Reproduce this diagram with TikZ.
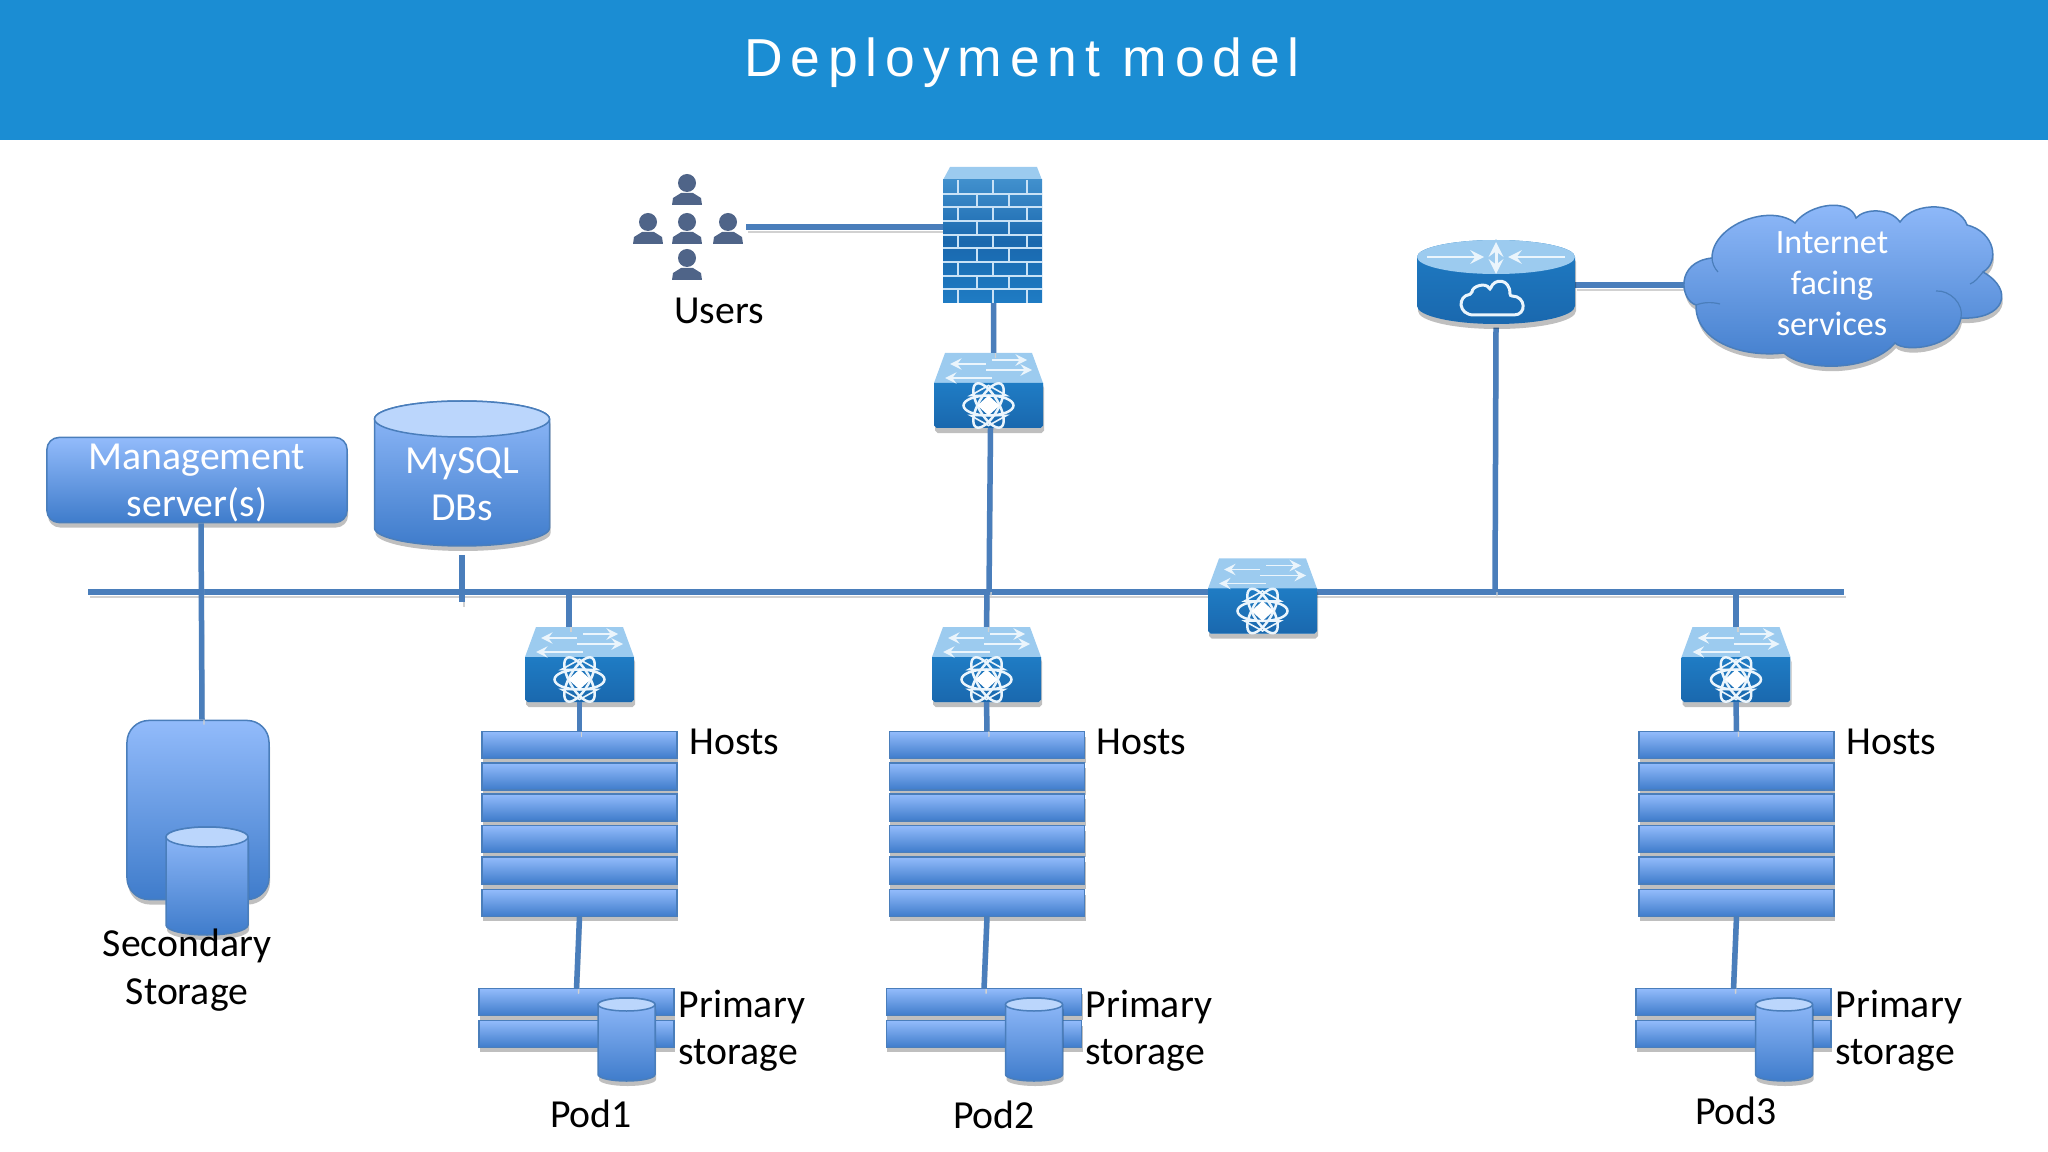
\documentclass[tikz,border=0pt]{standalone}
\usepackage{fontspec}
\setmainfont{Carlito}
\newfontfamily\titlefont[LetterSpace=14.7]{Liberation Sans}
\usetikzlibrary{calc,shadows}
\definecolor{headblue}{HTML}{1B8DD3}
\definecolor{linkblue}{HTML}{4A7EBB}
\definecolor{boxtop}{HTML}{92BBFB}
\definecolor{boxbot}{HTML}{3F7CCB}
\definecolor{lidblue}{HTML}{BBD6FC}
\definecolor{ciscotop}{HTML}{9CCBEF}
\definecolor{ciscofront}{HTML}{1F7CC4}
\definecolor{ciscodark}{HTML}{1A68AE}
\definecolor{personblue}{HTML}{4F6488}
\tikzset{
	softshadow/.style={drop shadow={shadow xshift=.01cm,shadow yshift=-.05cm,fill=black,opacity=.25}},
	link/.style={line width=.055cm,color=linkblue,preaction={draw=black!18,transform canvas={xshift=.02cm,yshift=-.05cm}}},
	gradbox/.style={draw=linkblue,line width=.015cm,top color=boxtop,bottom color=boxbot,softshadow},
	hostrow/.style={gradbox,inner sep=0,outer sep=0,minimum width=1.95cm,minimum height=.265cm},
	devbox/.style={inner sep=0,outer sep=0},
	whitetext/.style={color=white,align=center,inner sep=0,font=\fontsize{11.3}{13.5}\selectfont},
	blacktext/.style={color=black,inner sep=0,font=\fontsize{11.3}{13.5}\selectfont},
	ciscoline/.style={color=white!80!ciscotop,line width=.016cm},
}
\def\dbcan(#1,#2,#3,#4,#5){
	\path[gradbox] ({#1-#4},{#2+#5}) -- ({#1-#4},{#3-#5}) arc (180:0:#4 and #5) -- ({#1+#4},{#2+#5}) arc (0:-180:#4 and #5) -- cycle;
	\draw[draw=linkblue,line width=.015cm,fill=lidblue] (#1,{#2+#5}) ellipse (#4 and #5);
}
\def\switchbox(#1)(#2,#3){
	\node[devbox,minimum width=1.09cm,minimum height=.75cm] (#1) at (#2,#3) {};
	\begin{scope}[shift={(#2,#3)}]
		\path[fill=ciscotop,softshadow] (-43.5,-37.5) -- (43.5,-37.5) -- (54.5,-7.5) -- (54.5,35) -- (52,37.5) -- (-52,37.5) -- (-54.5,35) -- (-54.5,-7.5) -- cycle;
		\path[top color=ciscofront,bottom color=ciscodark] (-54.5,-7.5) -- (54.5,-7.5) -- (54.5,35) -- (52,37.5) -- (-52,37.5) -- (-54.5,35) -- cycle;
		\draw[ciscoline,-stealth] (3.5,-30.5) -- (38.5,-30.5);
		\draw[ciscoline,-stealth] (-2.5,-26.5) -- (-38.5,-26.5);
		\draw[ciscoline,-stealth] (-2.5,-20.5) -- (43.5,-20.5);
		\draw[ciscoline,-stealth] (3.5,-12.5) -- (-43.5,-12.5);
		\draw[ciscoline,line width=.025cm] (0,15) ellipse (25 and 10);
		\draw[ciscoline,line width=.025cm,rotate around={60:(0,15)}] (0,15) ellipse (25 and 10);
		\draw[ciscoline,line width=.025cm,rotate around={-60:(0,15)}] (0,15) ellipse (25 and 10);
		\draw[ciscoline] (-18,5) -- (18,5) -- (0,-5) -- cycle (-18,25) -- (18,25) -- (0,35) -- cycle;
		\fill[white] (-11,15) -- (0,5) -- (11,15) -- (0,25) -- cycle;
	\end{scope}
}
\def\personicon(#1,#2){
	\fill[personblue] (#1,#2) circle (9);
	\fill[personblue] ({#1-15},{#2+22}) -- ({#1-14},{#2+15}) -- ({#1-6},{#2+10}) -- ({#1+6},{#2+10}) -- ({#1+14},{#2+15}) -- ({#1+15},{#2+22}) -- cycle;
}

\begin{document}
\begin{tikzpicture}[x=.01cm,y=-.01cm]
	%%%%% START %%%%%
	\useasboundingbox (0,0) rectangle (2048,1152);
	\fill[headblue] (0,0) rectangle (2048,140);
	\node[color=white,inner sep=0,anchor=base,font=\fontsize{15.2}{18}\selectfont\titlefont] (title) at (1022,77) {Deployment model};

	%%%%% bus and connectors
	\coordinate (busleft) at (88,592);
	\coordinate (busright) at (1844,592);
	\coordinate (tapmysql) at (462,602);
	\coordinate (tappodone) at (569,592);
	\coordinate (tappodtwo) at (987,592);
	\coordinate (tapfirewall) at (989,592);
	\coordinate (taprouter) at (1495,592);
	\coordinate (tappodthree) at (1736,592);

	\node[devbox,minimum width=1.18cm,minimum height=.3cm] (users) at (687,227) {};
	\node[devbox,minimum width=.99cm,minimum height=1.36cm] (fwall) at (992.5,235) {};
	\node[devbox,minimum width=1.58cm,minimum height=.87cm] (router) at (1496,284) {};
	\node[devbox,minimum width=2.92cm,minimum height=1.2cm] (cloud) at (1832,285) {};
	\node[gradbox,rounded corners=.12cm,inner sep=0,minimum width=3cm,minimum height=.85cm] (mgmt) at (197,480) {};
	\node[gradbox,rounded corners=.22cm,inner sep=0,minimum width=1.42cm,minimum height=1.79cm] (secstore) at (198,810) {};

	\draw[link] (busleft) -- (busright);
	\draw[link] (users.east) -- (fwall.west |- users.east);
	\draw[link] (router.east |- cloud.west) -- (cloud.west);
	\draw[link] (router.south) -- (taprouter);
	\draw[link] ([xshift=.04cm]mgmt.south) -- ([xshift=.04cm]secstore.north);
	\draw[link] (462,555) -- (tapmysql);

	%%%%% top row
	\personicon(687,183)
	\personicon(648,222)
	\personicon(687,222)
	\personicon(728,222)
	\personicon(687,258)
	\node[blacktext,anchor=base] (userstext) at (719,324) {Users};

	\switchbox(swfw)(988.5,390.5)
	\switchbox(swmid)(1262.5,596)
	\switchbox(swone)(579.5,664.5)
	\switchbox(swtwo)(986.5,664.5)
	\switchbox(swthree)(1736,664.5)

	\draw[link] ([xshift=.01cm]fwall.south) -- ([xshift=.05cm]swfw.north);
	\draw[link] ([xshift=.02cm]swfw.south) -- (tapfirewall);
	\draw[link] (tappodone) -- (tappodone |- swone.north);
	\draw[link] (tappodtwo) -- (swtwo.north);
	\draw[link] (tappodthree) -- (swthree.north);

	%%%%% firewall
	\path[fill=ciscotop] (950,167) -- (1037,167) -- (1042,180) -- (943,180) -- cycle;
	\path[top color=ciscofront!85!white,bottom color=ciscofront,middle color=ciscodark] (943,180) rectangle (1042,303);
	\draw[ciscoline,color=white!45!ciscotop,line width=.014cm]
		(943,194) -- (1042,194) (943,207) -- (1042,207) (943,221) -- (1042,221) (943,235) -- (1042,235)
		(943,248) -- (1042,248) (943,262) -- (1042,262) (943,276) -- (1042,276) (943,289) -- (1042,289)
		(958,180) -- (958,194) (993,180) -- (993,194) (1027,180) -- (1027,194)
		(977,194) -- (977,207) (1009,194) -- (1009,207)
		(958,207) -- (958,221) (993,207) -- (993,221) (1027,207) -- (1027,221)
		(977,221) -- (977,235) (1009,221) -- (1009,235)
		(958,235) -- (958,248) (993,235) -- (993,248) (1027,235) -- (1027,248)
		(977,248) -- (977,262) (1009,248) -- (1009,262)
		(958,262) -- (958,276) (993,262) -- (993,276) (1027,262) -- (1027,276)
		(977,276) -- (977,289) (1009,276) -- (1009,289)
		(958,289) -- (958,303) (993,289) -- (993,303) (1027,289) -- (1027,303);

	%%%%% router
	\path[top color=ciscofront,bottom color=ciscodark,softshadow] (1417,257) -- (1417,306) arc (180:0:79 and 18) -- (1575,257) arc (0:-180:79 and 17) -- cycle;
	\fill[ciscotop] (1496,257) ellipse (79 and 17);
	\draw[ciscoline,line width=.025cm,-stealth] (1427,257) -- (1484,257);
	\draw[ciscoline,line width=.025cm,-stealth] (1565,257) -- (1508,257);
	\draw[ciscoline,line width=.03cm,-stealth] (1496,257) -- (1496,242);
	\draw[ciscoline,line width=.03cm,-stealth] (1496,257) -- (1496,274);
	\draw[ciscoline,line width=.03cm,rounded corners=.02cm] (1476,315) .. controls (1458,315) and (1457,296) .. (1472,294) .. controls (1472,286) and (1486,282) .. (1490,290) .. controls (1494,278) and (1510,278) .. (1510,296) .. controls (1526,296) and (1527,315) .. (1512,315) -- cycle;

	%%%%% cloud
	\path[gradbox] (1712,258) .. controls (1712,225) and (1770,203) .. (1795,223)
		.. controls (1810,203) and (1850,198) .. (1856,218)
		.. controls (1865,208) and (1890,208) .. (1900,222)
		.. controls (1915,200) and (1960,203) .. (1967,225)
		.. controls (1995,232) and (2000,262) .. (1983,272)
		.. controls (2015,290) and (2005,320) .. (1961,318)
		.. controls (1955,348) and (1905,353) .. (1895,343)
		.. controls (1870,372) and (1805,372) .. (1784,353)
		.. controls (1740,358) and (1695,340) .. (1696,305)
		.. controls (1680,300) and (1675,262) .. (1712,258) -- cycle;
	\draw[linkblue,line width=.012cm] (1961,318) .. controls (1964,304) and (1950,290) .. (1936,291);
	\draw[linkblue,line width=.012cm] (1983,272) .. controls (1978,278) and (1975,282) .. (1970,284);
	\draw[linkblue,line width=.012cm] (1696,305) .. controls (1704,302) and (1712,302) .. (1720,304);
	\draw[linkblue,line width=.012cm] (1712,258) .. controls (1712,262) and (1714,268) .. (1718,272);
	\node[whitetext,font=\fontsize{9.7}{11.7}\selectfont] (cloudtext) at ([yshift=.01cm]cloud.center) {Internet\\facing\\services};

	%%%%% management, database, secondary storage
	\node[whitetext] (mgmttext) at ([yshift=-.03cm]mgmt.center) {Management\\server(s)};
	\dbcan(462,401,546,87.5,18)
	\node[whitetext,minimum width=1.75cm] (mysql) at (462,484) {MySQL\\DBs};
	\dbcan(207,827,935,41,10)
	\node[blacktext,align=center] (sectext) at (187,970) {Secondary\\Storage};

	%%%%% pod 1
	\node[hostrow] (oneA) at (579.5,745) {};
	\node[hostrow] (oneB) at (579.5,776.5) {};
	\node[hostrow] (oneC) at (579.5,807.5) {};
	\node[hostrow] (oneD) at (579.5,839) {};
	\node[hostrow] (oneE) at (579.5,870.5) {};
	\node[hostrow] (oneF) at (579.5,903) {};
	\node[hostrow] (onePa) at (576.5,1002) {};
	\node[hostrow] (onePb) at (576.5,1034) {};
	\draw[link] (swone.south) -- (oneA.north);
	\draw[link] (oneF.south) -- (onePa.north);
	\dbcan(626.5,998,1081,28.5,6.5)
	\node[blacktext,anchor=base west] (onehosts) at (689,754) {Hosts};
	\node[blacktext,align=left,anchor=west] (oneprim) at (678,1031) {Primary\\storage};
	\node[blacktext,anchor=base] (onelabel) at (591,1127) {Pod1};

	%%%%% pod 2
	\node[hostrow] (twoA) at (987,745) {};
	\node[hostrow] (twoB) at (987,776.5) {};
	\node[hostrow] (twoC) at (987,807.5) {};
	\node[hostrow] (twoD) at (987,839) {};
	\node[hostrow] (twoE) at (987,870.5) {};
	\node[hostrow] (twoF) at (987,903) {};
	\node[hostrow] (twoPa) at (984,1002) {};
	\node[hostrow] (twoPb) at (984,1034) {};
	\draw[link] (swtwo.south) -- (twoA.north);
	\draw[link] (twoF.south) -- (twoPa.north);
	\dbcan(1034,998,1081,28.5,6.5)
	\node[blacktext,anchor=base west] (twohosts) at (1096,754) {Hosts};
	\node[blacktext,align=left,anchor=west] (twoprim) at (1085,1031) {Primary\\storage};
	\node[blacktext,anchor=base] (twolabel) at (994,1128) {Pod2};

	%%%%% pod 3
	\node[hostrow] (threeA) at (1736.5,745) {};
	\node[hostrow] (threeB) at (1736.5,776.5) {};
	\node[hostrow] (threeC) at (1736.5,807.5) {};
	\node[hostrow] (threeD) at (1736.5,839) {};
	\node[hostrow] (threeE) at (1736.5,870.5) {};
	\node[hostrow] (threeF) at (1736.5,903) {};
	\node[hostrow] (threePa) at (1733.5,1002) {};
	\node[hostrow] (threePb) at (1733.5,1034) {};
	\draw[link] (swthree.south) -- (threeA.north);
	\draw[link] (threeF.south) -- (threePa.north);
	\dbcan(1784,998,1081,28.5,6.5)
	\node[blacktext,anchor=base west] (threehosts) at (1846,754) {Hosts};
	\node[blacktext,align=left,anchor=west] (threeprim) at (1835,1031) {Primary\\storage};
	\node[blacktext,anchor=base] (threelabel) at (1736,1124) {Pod3};
	%%%%% END %%%%%
\end{tikzpicture}
\end{document}
